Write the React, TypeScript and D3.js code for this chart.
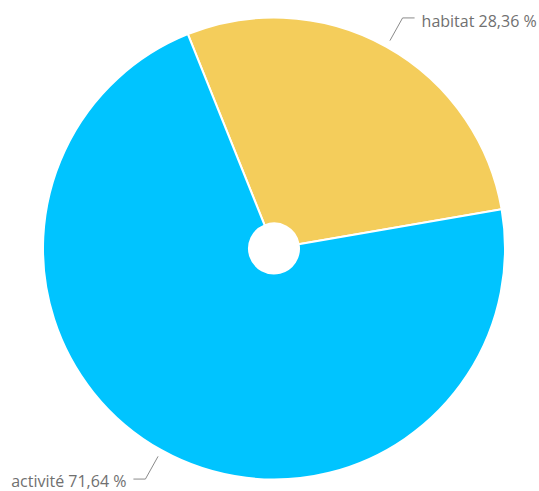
import React from "react";
import * as d3 from "d3";

const categories = ["habitat", "activité"];
const values = [28.36, 71.64];
const labels = ["habitat 28,36 %", "activité 71,64 %"];
const colors = ["#F4CD5B", "#00C4FF"];

export default function App() {
  const W = 539, H = 491;
  const cx = 274, cy = 248.5, r = 231, r0 = 25;
  const startRad = (-21.9 * Math.PI) / 180;
  const pie = d3.pie<number>().sort(null).startAngle(startRad).endAngle(startRad + 2 * Math.PI);
  const arcs = pie(values);
  const arc = d3.arc<d3.PieArcDatum<number>>().innerRadius(r0).outerRadius(r);
  return (
    <svg width={W} height={H} style={{ position: "absolute", left: 0, top: 0 }}>
      <g transform={`translate(${cx},${cy})`}>
        {arcs.map((a, i) => (
          <path key={categories[i]} d={arc(a) || ""} fill={colors[i]} stroke="#fff" strokeWidth={2} strokeLinejoin="round" />
        ))}
        {arcs.map((a, i) => {
          const mid = (a.startAngle + a.endAngle) / 2;
          const sx = Math.sin(mid), sy = -Math.cos(mid);
          const p1 = [sx * 238, sy * 238];
          const p2 = [sx * 264, sy * 264];
          const right = sx >= 0;
          const p3 = [p2[0] + (right ? 12 : -12), p2[1]];
          return (
            <g key={"l" + i}>
              <polyline
                points={[p1, p2, p3].map((p) => p.join(",")).join(" ")}
                fill="none"
                stroke="#8a8a8a"
                strokeWidth={1}
              />
              <text
                x={p3[0] + (right ? 7 : -7)}
                y={p3[1] + (right ? 9.5 : 7.5)}
                textAnchor={right ? "start" : "end"}
                fontFamily="'Open Sans', sans-serif"
                fontSize={16}
                fill="#707070"
              >
                {labels[i]}
              </text>
            </g>
          );
        })}
      </g>
    </svg>
  );
}
